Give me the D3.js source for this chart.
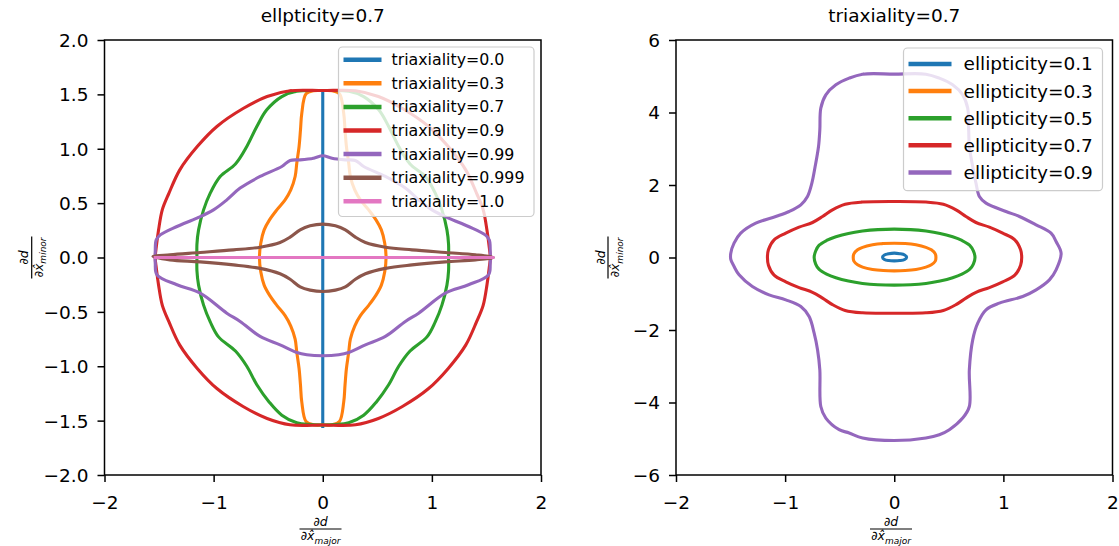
<!DOCTYPE html>
<html><head><meta charset="utf-8">
<script src="https://cdn.jsdelivr.net/npm/d3@7"></script>
<style>body{margin:0;background:#fff} text{font-family:"DejaVu Sans",sans-serif;fill:#000}</style>
</head><body><svg id="c" width="1119" height="546"></svg>
<script>
const colors = ["#1f77b4","#ff7f0e","#2ca02c","#d62728","#9467bd","#8c564b","#e377c2"];

// ---------- left panel: ellipticity = 0.7 ----------
const leftTitle = "ellpticity=0.7";
const leftLabels = ["triaxiality=0.0","triaxiality=0.3","triaxiality=0.7","triaxiality=0.9","triaxiality=0.99","triaxiality=0.999","triaxiality=1.0"];
const leftXTicks = [-2,-1,0,1,2];
const leftYTicks = [-2,-1.5,-1,-0.5,0,0.5,1,1.5,2];

const tri00 = [[0,-1.554],[0,1.533]];
const tri03 = [[0,1.535],[-0.085,1.533],[-0.153,1.505],[-0.192,1.327],[-0.204,1.174],[-0.217,1.021],[-0.238,0.867],[-0.253,0.745],[-0.293,0.622],[-0.345,0.53],[-0.421,0.438],[-0.488,0.346],[-0.537,0.254],[-0.568,0.132],[-0.58,0],
 [-0.568,-0.132],[-0.537,-0.254],[-0.488,-0.346],[-0.421,-0.44],[-0.345,-0.535],[-0.293,-0.63],[-0.253,-0.75],[-0.238,-0.87],[-0.217,-1.021],[-0.204,-1.174],[-0.192,-1.33],[-0.153,-1.508],[-0.085,-1.538],[0,-1.54],
 [0.085,-1.538],[0.153,-1.508],[0.192,-1.33],[0.204,-1.174],[0.217,-1.021],[0.238,-0.87],[0.253,-0.75],[0.293,-0.63],[0.345,-0.535],[0.421,-0.44],[0.488,-0.346],[0.537,-0.254],[0.568,-0.132],[0.58,0],
 [0.568,0.132],[0.537,0.254],[0.488,0.346],[0.421,0.438],[0.345,0.53],[0.293,0.622],[0.253,0.745],[0.238,0.867],[0.217,1.021],[0.204,1.174],[0.192,1.327],[0.153,1.505],[0.085,1.533]];
const tri07 = [[0,1.535],[-0.24,1.528],[-0.375,1.48],[-0.513,1.358],[-0.604,1.205],[-0.696,1.021],[-0.80,0.86],[-0.94,0.745],[-1.031,0.592],[-1.092,0.438],[-1.138,0.254],[-1.153,0.12],[-1.153,0],
 [-1.153,-0.12],[-1.138,-0.254],[-1.092,-0.438],[-1.031,-0.592],[-0.955,-0.73],[-0.80,-0.86],[-0.696,-1.0],[-0.604,-1.17],[-0.49,-1.33],[-0.375,-1.45],[-0.238,-1.52],[0,-1.54],
 [0.238,-1.52],[0.375,-1.45],[0.49,-1.33],[0.604,-1.17],[0.696,-1.0],[0.80,-0.86],[0.955,-0.73],[1.031,-0.592],[1.092,-0.438],[1.138,-0.254],[1.153,-0.12],[1.153,0],
 [1.153,0.12],[1.138,0.254],[1.092,0.438],[1.031,0.592],[0.94,0.745],[0.80,0.86],[0.696,1.021],[0.604,1.205],[0.513,1.358],[0.375,1.48],[0.24,1.528]];
const tri09 = [[0,1.535],[-0.3,1.533],[-0.51,1.48],[-0.73,1.37],[-0.97,1.205],[-1.15,1.02],[-1.31,0.806],[-1.41,0.59],[-1.47,0.44],[-1.505,0.25],[-1.525,0.10],[-1.535,0],
 [-1.525,-0.10],[-1.505,-0.25],[-1.47,-0.44],[-1.41,-0.59],[-1.31,-0.806],[-1.15,-1.02],[-0.97,-1.205],[-0.73,-1.37],[-0.51,-1.48],[-0.3,-1.538],[0,-1.54],
 [0.3,-1.538],[0.51,-1.48],[0.73,-1.37],[0.97,-1.205],[1.15,-1.02],[1.31,-0.806],[1.41,-0.59],[1.47,-0.44],[1.505,-0.25],[1.525,-0.10],[1.535,0],
 [1.525,0.10],[1.505,0.25],[1.47,0.44],[1.41,0.59],[1.31,0.806],[1.15,1.02],[0.97,1.205],[0.73,1.37],[0.51,1.48],[0.3,1.533]];
const tri099 = [[0,0.935],[-0.085,0.913],[-0.207,0.898],[-0.299,0.892],[-0.375,0.837],[-0.574,0.745],[-0.757,0.638],[-0.879,0.53],[-1.001,0.438],[-1.153,0.362],[-1.336,0.285],[-1.489,0.208],[-1.526,0.162],[-1.535,0.06],
 [-1.535,-0.052],[-1.519,-0.159],[-1.336,-0.251],[-1.123,-0.328],[-0.879,-0.512],[-0.757,-0.588],[-0.574,-0.726],[-0.391,-0.803],[-0.238,-0.874],[-0.146,-0.895],[0,-0.904],
 [0.146,-0.895],[0.238,-0.874],[0.391,-0.803],[0.574,-0.726],[0.757,-0.588],[0.879,-0.512],[1.123,-0.328],[1.336,-0.251],[1.519,-0.159],[1.535,-0.052],
 [1.535,0.06],[1.526,0.162],[1.489,0.208],[1.336,0.285],[1.153,0.362],[1.001,0.438],[0.879,0.53],[0.757,0.638],[0.574,0.745],[0.375,0.837],[0.299,0.892],[0.207,0.898],[0.085,0.913]];
const tri0999 = [[0,0.307],[-0.116,0.291],[-0.207,0.254],[-0.299,0.187],[-0.391,0.138],[-0.574,0.095],[-0.818,0.07],[-1.123,0.046],[-1.40,0.025],[-1.556,0.008],
 [-1.40,-0.022],[-1.123,-0.04],[-0.818,-0.068],[-0.574,-0.1],[-0.391,-0.15],[-0.299,-0.2],[-0.207,-0.27],[-0.116,-0.3],[0,-0.313],
 [0.116,-0.3],[0.207,-0.27],[0.299,-0.2],[0.391,-0.15],[0.574,-0.1],[0.818,-0.068],[1.123,-0.04],[1.40,-0.022],[1.562,0.0],
 [1.40,0.025],[1.123,0.046],[0.818,0.07],[0.574,0.095],[0.391,0.138],[0.299,0.187],[0.207,0.254],[0.116,0.291]];
const tri10 = [[-1.535,0],[1.56,0]];
const leftSeries = [
  {pts:tri00, closed:false},{pts:tri03, closed:true},{pts:tri07, closed:true},{pts:tri09, closed:true},
  {pts:tri099, closed:true},{pts:tri0999, closed:true},{pts:tri10, closed:false}];

// ---------- right panel: triaxiality = 0.7 ----------
const rightTitle = "triaxiality=0.7";
const rightLabels = ["ellipticity=0.1","ellipticity=0.3","ellipticity=0.5","ellipticity=0.7","ellipticity=0.9"];
const rightXTicks = [-2,-1,0,1,2];
const rightYTicks = [-6,-4,-2,0,2,4,6];

const ell01 = [[0,0.12],[-0.05,0.105],[-0.09,0.07],[-0.107,0.01],[-0.09,-0.055],[-0.05,-0.085],[0,-0.092],[0.05,-0.085],[0.095,-0.055],[0.113,0.01],[0.095,0.07],[0.05,0.105]];
const ell03 = [[0,0.395],[-0.1,0.385],[-0.199,0.349],[-0.29,0.28],[-0.336,0.212],[-0.37,0.1],[-0.376,0],[-0.37,-0.1],[-0.336,-0.2],[-0.29,-0.265],[-0.199,-0.33],[-0.1,-0.36],[0,-0.368],
 [0.1,-0.36],[0.199,-0.33],[0.29,-0.265],[0.34,-0.2],[0.376,-0.1],[0.382,0],[0.376,0.1],[0.34,0.212],[0.29,0.28],[0.199,0.349],[0.1,0.385]];
const ell05 = [[0,0.782],[-0.15,0.77],[-0.291,0.73],[-0.42,0.665],[-0.535,0.57],[-0.62,0.47],[-0.688,0.34],[-0.72,0.18],[-0.734,0],[-0.72,-0.18],[-0.688,-0.33],[-0.62,-0.46],[-0.535,-0.56],[-0.42,-0.65],[-0.291,-0.715],[-0.15,-0.752],[0,-0.763],
 [0.15,-0.752],[0.291,-0.715],[0.42,-0.65],[0.535,-0.56],[0.62,-0.46],[0.69,-0.33],[0.725,-0.18],[0.74,0],[0.725,0.18],[0.69,0.34],[0.62,0.47],[0.535,0.57],[0.42,0.665],[0.291,0.73],[0.15,0.77]];
const ell07 = [[0,1.545],[-0.29,1.53],[-0.45,1.47],[-0.566,1.315],[-0.657,1.131],[-0.749,0.966],[-0.872,0.837],[-0.994,0.671],[-1.101,0.487],[-1.153,0.211],[-1.162,0],
 [-1.153,-0.211],[-1.101,-0.487],[-0.994,-0.671],[-0.872,-0.83],[-0.749,-0.96],[-0.657,-1.12],[-0.566,-1.30],[-0.45,-1.46],[-0.29,-1.525],[0,-1.536],
 [0.29,-1.525],[0.45,-1.46],[0.566,-1.30],[0.657,-1.12],[0.749,-0.96],[0.872,-0.83],[0.994,-0.671],[1.105,-0.487],[1.158,-0.211],[1.168,0],
 [1.158,0.211],[1.105,0.487],[0.994,0.671],[0.872,0.837],[0.749,0.966],[0.657,1.131],[0.566,1.315],[0.45,1.47],[0.29,1.53]];
const ell09 = [[0,5.06],[-0.29,5.057],[-0.413,4.947],[-0.535,4.763],[-0.627,4.487],[-0.673,4.12],[-0.682,3.522],[-0.694,3.062],[-0.725,2.51],[-0.755,2.051],[-0.795,1.683],[-0.856,1.453],[-0.963,1.269],[-1.086,1.131],[-1.269,0.947],[-1.407,0.671],[-1.468,0.395],[-1.498,0.12],
 [-1.498,-0.05],[-1.468,-0.248],[-1.422,-0.478],[-1.3,-0.8],[-1.147,-1.03],[-0.994,-1.168],[-0.856,-1.352],[-0.78,-1.628],[-0.734,-2.087],[-0.703,-2.547],[-0.682,-3.099],[-0.673,-4.11],[-0.627,-4.43],[-0.505,-4.75],[-0.413,-4.84],[-0.29,-4.98],[0,-5.05],
 [0.29,-4.98],[0.413,-4.89],[0.505,-4.75],[0.627,-4.43],[0.688,-4.11],[0.688,-3.099],[0.719,-2.271],[0.765,-1.811],[0.841,-1.444],[0.963,-1.26],[1.177,-1.076],[1.3,-0.892],[1.422,-0.616],[1.483,-0.34],[1.529,0.12],
 [1.483,0.44],[1.437,0.671],[1.3,0.9],[1.147,1.131],[1.024,1.269],[0.841,1.5],[0.78,1.683],[0.749,2.051],[0.719,2.51],[0.688,3.062],[0.682,3.522],[0.673,4.12],[0.627,4.487],[0.535,4.763],[0.413,4.947],[0.29,5.057]];
const rightSeries = [
  {pts:ell01, closed:true},{pts:ell03, closed:true},{pts:ell05, closed:true},{pts:ell07, closed:true},{pts:ell09, closed:true}];

// ---------- drawing ----------
const svg = d3.select("#c");
const FS = 18.5;

function frac(g, cx, cy, sub, rotate) {
  const f = g.append("g").attr("transform", `translate(${cx},${cy})` + (rotate ? " rotate(-90)" : ""));
  f.append("text").attr("x", 0).attr("y", -3.5).attr("text-anchor", "middle")
    .style("font-size", "12.5px").style("font-style", "italic").text("\u2202d");
  f.append("line").attr("x1", -21).attr("x2", 21).attr("y1", 0).attr("y2", 0)
    .attr("stroke", "#000").attr("stroke-width", 1.2);
  const t = f.append("text").attr("x", -20).attr("y", 11.3).style("font-size", "12.5px").style("font-style", "italic");
  t.append("tspan").text("\u2202x\u0302");
  t.append("tspan").attr("dy", 3.2).style("font-size", "9px").text(sub);
}

function panel(opt) {
  const x = d3.scaleLinear().domain([-2, 2]).range([opt.left, opt.right]);
  const y = d3.scaleLinear().domain(opt.ydom).range([475, 40]);
  const g = svg.append("g");
  const clipId = "clip" + Math.round(opt.left);
  svg.append("clipPath").attr("id", clipId).append("rect")
    .attr("x", opt.left).attr("y", 40).attr("width", opt.right - opt.left).attr("height", 435);

  const lineOpen = d3.line().x(d => x(d[0])).y(d => y(d[1]));
  const lineClosed = d3.line().x(d => x(d[0])).y(d => y(d[1])).curve(d3.curveCatmullRomClosed.alpha(0.5));
  const cg = g.append("g").attr("clip-path", `url(#${clipId})`);
  opt.series.forEach((s, i) => {
    cg.append("path").attr("d", (s.closed ? lineClosed : lineOpen)(s.pts))
      .attr("fill", "none").attr("stroke", colors[i]).attr("stroke-width", 3.1)
      .attr("stroke-linejoin", "round").attr("stroke-linecap", "square");
  });

  // axes
  const ax = g.append("g").attr("transform", "translate(0,475)")
    .call(d3.axisBottom(x).tickValues(opt.xticks).tickSize(7).tickPadding(6).tickFormat(d3.format("d")));
  const ay = g.append("g").attr("transform", `translate(${opt.left},0)`)
    .call(d3.axisLeft(y).tickValues(opt.yticks).tickSize(7).tickPadding(9).tickFormat(d3.format(opt.yfmt)));
  [ax, ay].forEach(a => {
    a.select(".domain").remove();
    a.selectAll(".tick line").attr("stroke", "#000").attr("stroke-width", 1.5);
    a.selectAll(".tick text").style("font-size", FS + "px").style("font-family", "DejaVu Sans").attr("fill", "#000");
  });
  ax.selectAll(".tick text").attr("dy", null).attr("y", 33.5);
  ay.selectAll(".tick text").attr("dy", "0.35em");
  g.append("rect").attr("x", opt.left).attr("y", 40).attr("width", opt.right - opt.left).attr("height", 435)
    .attr("fill", "none").attr("stroke", "#000").attr("stroke-width", 1.5);

  // title
  g.append("text").attr("x", (opt.left + opt.right) / 2).attr("y", 22).attr("text-anchor", "middle")
    .style("font-size", FS + "px").text(opt.title);

  // axis labels
  frac(g, opt.xlabX, 529, "major", false);
  frac(g, opt.ylabX, 257.5, "minor", true);

  // legend
  const L = opt.legend;
  const lg = g.append("g");
  lg.append("rect").attr("x", L.x0).attr("y", L.y0).attr("width", L.x1 - L.x0).attr("height", L.y1 - L.y0)
    .attr("rx", 4).attr("fill", "#fff").attr("fill-opacity", 0.8).attr("stroke", "#cccccc").attr("stroke-width", 1.2);
  opt.labels.forEach((lab, i) => {
    const cy = L.row0 + i * L.dy;
    lg.append("line").attr("x1", L.h0).attr("x2", L.h1).attr("y1", cy).attr("y2", cy)
      .attr("stroke", colors[i]).attr("stroke-width", 4.5);
    lg.append("text").attr("x", L.tx).attr("y", cy).attr("dy", "0.35em")
      .style("font-size", L.fs + "px").text(lab);
  });
}

panel({left:104.5, right:541, ydom:[-2,2], xticks:leftXTicks, yticks:leftYTicks, yfmt:".1f",
  series:leftSeries, title:leftTitle, labels:leftLabels, xlabX:320.5, ylabX:31.7,
  legend:{x0:338.5, y0:47, x1:534, y1:216.5, h0:343.5, h1:381.5, tx:391.5, row0:59.7, dy:23.6, fs:15.8}});
panel({left:676, right:1112.5, ydom:[-6,6], xticks:rightXTicks, yticks:rightYTicks, yfmt:"d",
  series:rightSeries, title:rightTitle, labels:rightLabels, xlabX:891, ylabX:608,
  legend:{x0:903.5, y0:48, x1:1102.5, y1:190.7, h0:908.5, h1:951.5, tx:963.5, row0:64, dy:27.1, fs:18.5}});
</script></body></html>
